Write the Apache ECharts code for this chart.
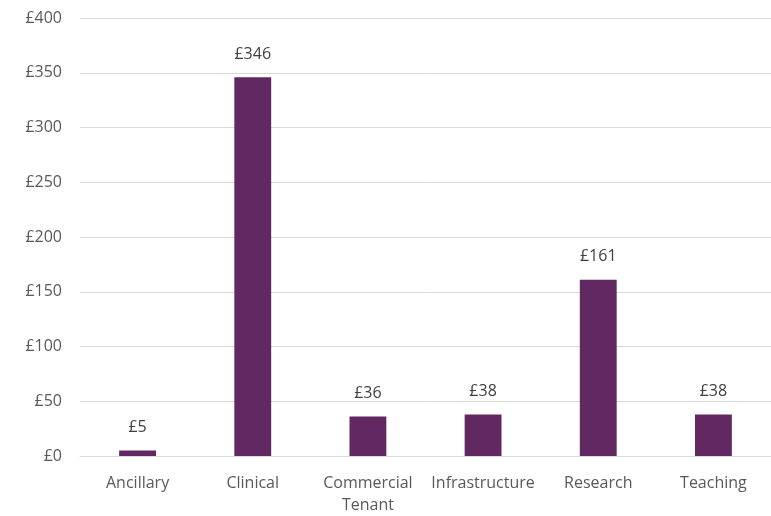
<!DOCTYPE html>
<html><head><meta charset="utf-8">
<script src="https://cdn.jsdelivr.net/npm/echarts@6/dist/echarts.min.js"></script>
<style>html,body{margin:0;padding:0;background:#fff}#c{width:771px;height:516px}</style>
</head><body><div id="c"></div>
<script>
const categories = ["Ancillary", "Clinical", "Commercial\nTenant", "Infrastructure", "Research", "Teaching"];
const values = [5, 346, 36, 38, 161, 38];
const yMin = 0, yMax = 400, yStep = 50;

const chart = echarts.init(document.getElementById('c'));
chart.setOption({
  animation: false,
  grid: { left: 80, right: 0, top: 18, bottom: 59, containLabel: false },
  xAxis: {
    type: 'category', data: categories,
    axisLine: { lineStyle: { color: '#d9d9d9', width: 1 } },
    axisTick: { show: false },
    axisLabel: { color: '#595959', fontFamily: 'Open Sans', fontSize: 16, margin: 16, lineHeight: 22, interval: 0 }
  },
  yAxis: {
    type: 'value', min: yMin, max: yMax, interval: yStep,
    axisLine: { show: false }, axisTick: { show: false },
    splitLine: { lineStyle: { color: '#d9d9d9', width: 1 } },
    axisLabel: { color: '#595959', fontFamily: 'Open Sans', fontSize: 16, margin: 18, formatter: v => '£' + v }
  },
  series: [{
    type: 'bar', data: values, barWidth: '32%',
    itemStyle: { color: '#622862' },
    label: { show: true, position: 'top', distance: 15, color: '#404040', fontFamily: 'Open Sans', fontSize: 16, formatter: p => '£' + p.value }
  }]
});
</script></body></html>
